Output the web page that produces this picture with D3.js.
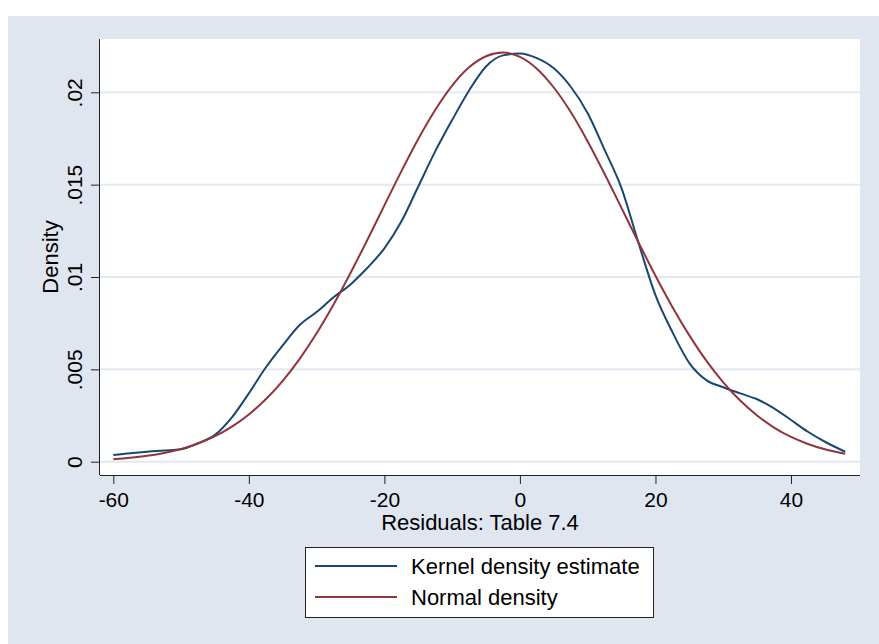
<!DOCTYPE html>
<html>
<head>
<meta charset="utf-8">
<script src="https://cdn.jsdelivr.net/npm/d3@7"></script>
<style>
  body { margin: 0; background: #fff; }
  svg { display: block; font-family: Arial, "Liberation Sans", sans-serif; }
</style>
</head>
<body>
<svg width="879" height="644"></svg>
<script>
// 数据
var xs = [-60, -57.5, -55, -52.5, -50, -47.5, -45, -42.5, -40, -37.5, -35, -32.5, -30, -27.5, -25, -22.5,
  -20, -17.5, -15, -12.5, -10, -7.5, -5, -2.5, 0, 2.5, 5, 7.5, 10, 12.5, 15, 17.5,
  20, 22.5, 25, 27.5, 30, 32.5, 35, 37.5, 40, 42.5, 45, 48]

var kernel = [0.00036, 0.00046, 0.00054, 0.0006, 0.00067, 0.001, 0.00145, 0.0024, 0.0037, 0.0051, 0.0063, 0.0074, 0.0081, 0.0089, 0.0096, 0.0105,
  0.01155, 0.0130, 0.0149, 0.0168, 0.0185, 0.0201, 0.0214, 0.0220, 0.0221, 0.02185, 0.0213, 0.0203, 0.01887, 0.01688, 0.0148, 0.01184,
  0.00902, 0.00702, 0.00534, 0.00442, 0.00403, 0.0037, 0.00338, 0.00289, 0.00226, 0.00162, 0.00108, 0.00054]

var normal = [0.000137, 0.000212, 0.00032, 0.000475, 0.000692, 0.000987, 0.00138, 0.0019, 0.00256, 0.00338, 0.00438, 0.00557, 0.00695, 0.00851, 0.01022, 0.01202,
  0.01388, 0.01572, 0.01747, 0.01904, 0.02036, 0.02135, 0.02195, 0.02215, 0.02192, 0.02128, 0.02026, 0.01893, 0.01734, 0.01558, 0.01373, 0.01187,
  0.01007, 0.00838, 0.00684, 0.00547, 0.0043, 0.00331, 0.0025, 0.00185, 0.00134, 0.00096, 0.00067, 0.000426]

var xTicks = [-60, -40, -20, 0, 20, 40]
var yTicks = [0, 0.005, 0.01, 0.015, 0.02]
var yTickLabels = ['0', '.005', '.01', '.015', '.02']

var seriesNames = ['Kernel density estimate', 'Normal density']
var colors = ['#1a476f', '#90353b']

var svg = d3.select('svg')

// 背景
svg.append('rect')
  .attr('x', 8).attr('y', 16)
  .attr('width', 871).attr('height', 628)
  .attr('fill', '#e0e6f0')

var plotL = 100, plotR = 860, plotT = 39, plotB = 475

svg.append('rect')
  .attr('x', plotL).attr('y', plotT)
  .attr('width', plotR - plotL).attr('height', plotB - plotT)
  .attr('fill', '#fff')

var x = d3.scaleLinear().domain([-60, 40]).range([113.3, 791])
var y = d3.scaleLinear().domain([0, 0.02]).range([461.7, 92.3])

// grid
svg.selectAll('line.grid').data(yTicks).enter().append('line')
  .attr('class', 'grid')
  .attr('x1', plotL).attr('x2', plotR)
  .attr('y1', d => y(d)).attr('y2', d => y(d))
  .attr('stroke', '#e4e8f2')
  .attr('stroke-width', 2)

// curves
var line = d3.line()
  .x(d => x(d[0]))
  .y(d => y(d[1]))
  .curve(d3.curveMonotoneX)

var series = [kernel, normal]
series.forEach(function (vals, i) {
  svg.append('path')
    .datum(xs.map((v, j) => [v, vals[j]]))
    .attr('d', line)
    .attr('fill', 'none')
    .attr('stroke', colors[i])
    .attr('stroke-width', 2)
    .attr('stroke-linejoin', 'round')
})

// axes
var xAxis = d3.axisBottom(x).tickValues(xTicks).tickSize(9).tickPadding(8).tickFormat(d3.format('d'))
var gx = svg.append('g').attr('transform', 'translate(0,' + plotB + ')').call(xAxis)
gx.select('.domain').attr('d', 'M' + plotL + ',0.5H' + plotR).attr('stroke', '#222')
gx.selectAll('.tick line').attr('stroke', '#222')
gx.selectAll('.tick text').attr('font-size', 21).attr('fill', '#000').attr('font-family', 'Arial, "Liberation Sans", sans-serif')
  .text(d => d < 0 ? '-' + Math.abs(d) : d)

var yAxis = d3.axisLeft(y).tickValues(yTicks).tickSize(9).tickFormat((d, i) => yTickLabels[i])
var gy = svg.append('g').attr('transform', 'translate(' + plotL + ',0)').call(yAxis)
gy.select('.domain').attr('d', 'M-0.5,' + plotT + 'V' + plotB).attr('stroke', '#222')
gy.selectAll('.tick line').attr('stroke', '#222')
gy.selectAll('.tick text')
  .attr('font-size', 21).attr('fill', '#000').attr('font-family', 'Arial, "Liberation Sans", sans-serif')
  .attr('x', null).attr('dy', null)
  .attr('text-anchor', 'middle')
  .attr('transform', 'translate(-18,0) rotate(-90)')

// axis titles
svg.append('text')
  .attr('x', 480).attr('y', 530)
  .attr('text-anchor', 'middle')
  .attr('font-size', 22)
  .text('Residuals: Table 7.4')

svg.append('text')
  .attr('transform', 'translate(58,257) rotate(-90)')
  .attr('text-anchor', 'middle')
  .attr('font-size', 22)
  .text('Density')

// legend
var legend = svg.append('g')
legend.append('rect')
  .attr('x', 305.5).attr('y', 547.5)
  .attr('width', 348).attr('height', 70)
  .attr('fill', '#fff').attr('stroke', '#222')

seriesNames.forEach(function (name, i) {
  var ly = 566 + i * 31
  legend.append('line')
    .attr('x1', 315).attr('x2', 397)
    .attr('y1', ly).attr('y2', ly)
    .attr('stroke', colors[i]).attr('stroke-width', 2)
  legend.append('text')
    .attr('x', 411).attr('y', ly + 7.5)
    .attr('font-size', 22)
    .text(name)
})
</script>
</body>
</html>
